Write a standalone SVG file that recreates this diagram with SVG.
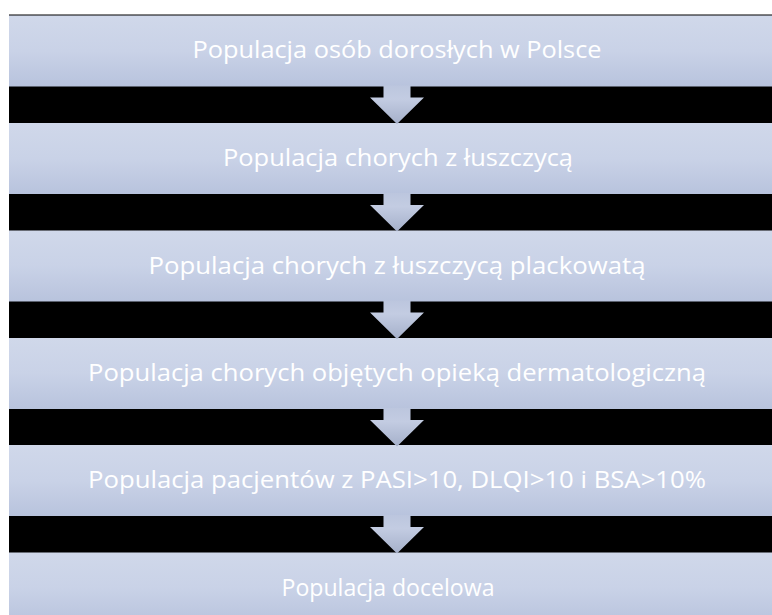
<svg xmlns="http://www.w3.org/2000/svg" width="772" height="615" viewBox="0 0 772 615">
<defs>
<linearGradient id="boxg" x1="0" y1="0" x2="0" y2="1">
<stop offset="0" stop-color="#d0d8ea"/>
<stop offset="0.5" stop-color="#c9d2e7"/>
<stop offset="1" stop-color="#b8c3dd"/>
</linearGradient>
<linearGradient id="arrg" x1="0" y1="0" x2="0" y2="1">
<stop offset="0" stop-color="#bcc6de"/>
<stop offset="0.35" stop-color="#c3cce2"/>
<stop offset="1" stop-color="#a5b0ca"/>
</linearGradient>
<style>
.box{fill:url(#boxg);}
.arr{fill:url(#arrg);}
.lbl{font-family:"Open Sans","Noto Sans","Liberation Sans",sans-serif;font-size:24px;fill:#ffffff;text-anchor:middle;}
</style>
</defs>
<rect x="0" y="0" width="772" height="615" fill="#ffffff"/>
<g id="background">
<rect x="9" y="14.5" width="763" height="601" fill="#000000"/>
</g>
<g id="node1"><rect class="box" x="9" y="15.5" width="763" height="71"/><text class="lbl" x="397" y="58" textLength="409" lengthAdjust="spacingAndGlyphs">Populacja osób dorosłych w Polsce</text></g>
<g id="node2"><rect class="box" x="9" y="123" width="763" height="71"/><text class="lbl" x="398" y="166" textLength="350" lengthAdjust="spacingAndGlyphs">Populacja chorych z łuszczycą</text></g>
<g id="node3"><rect class="box" x="9" y="230.5" width="763" height="71"/><text class="lbl" x="397" y="273.5" textLength="497" lengthAdjust="spacingAndGlyphs">Populacja chorych z łuszczycą plackowatą</text></g>
<g id="node4"><rect class="box" x="9" y="338" width="763" height="71"/><text class="lbl" x="397" y="381" textLength="618" lengthAdjust="spacingAndGlyphs">Populacja chorych objętych opieką dermatologiczną</text></g>
<g id="node5"><rect class="box" x="9" y="445" width="763" height="71"/><text class="lbl" x="397" y="488" textLength="618" lengthAdjust="spacingAndGlyphs">Populacja pacjentów z PASI&gt;10, DLQI&gt;10 i BSA&gt;10%</text></g>
<g id="node6"><rect class="box" x="9" y="552.5" width="763" height="71"/><text class="lbl" x="388" y="595.5" textLength="213" lengthAdjust="spacingAndGlyphs">Populacja docelowa</text></g>
<g id="connectors">
<path class="arr" d="M383.5 85.5 H410.5 V97.5 H424 L397 124 L370 97.5 H383.5 Z"/>
<path class="arr" d="M383.5 193 H410.5 V205 H424 L397 231.5 L370 205 H383.5 Z"/>
<path class="arr" d="M383.5 300.5 H410.5 V312.5 H424 L397 339 L370 312.5 H383.5 Z"/>
<path class="arr" d="M383.5 408 H410.5 V420 H424 L397 446.5 L370 420 H383.5 Z"/>
<path class="arr" d="M383.5 515 H410.5 V527 H424 L397 553.5 L370 527 H383.5 Z"/>
</g>
</svg>
